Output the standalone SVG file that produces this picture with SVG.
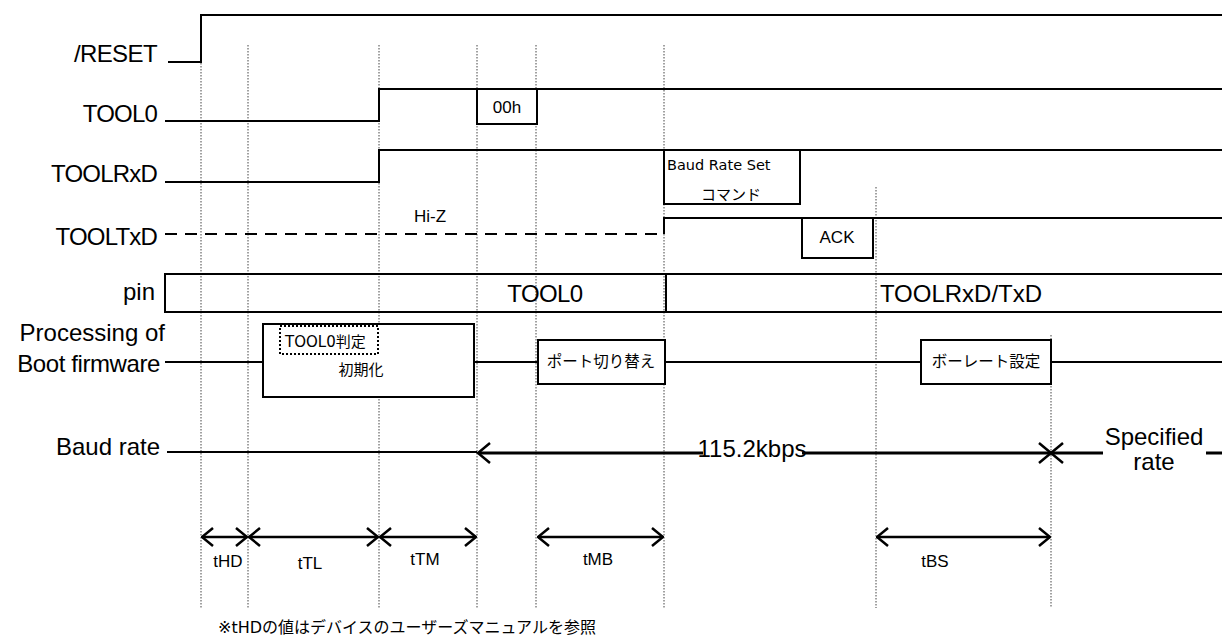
<svg xmlns="http://www.w3.org/2000/svg" width="1222" height="636" viewBox="0 0 1222 636">
<defs>
<style>
.bg{fill:#fff}
.sig{fill:none;stroke:#000;stroke-width:2}
.thick{fill:none;stroke:#000;stroke-width:3}
.box{fill:#fff;stroke:#000;stroke-width:2}
.dash{fill:none;stroke:#000;stroke-width:2;stroke-dasharray:12 8}
.guide{fill:none;stroke:#444;stroke-width:1;stroke-dasharray:1.5 1.5}
.dotbox{fill:none;stroke:#000;stroke-width:2;stroke-dasharray:2 2}
.lbl{font-family:"Liberation Sans",Arial,sans-serif;font-size:24px;fill:#000}
.sm{font-family:"Liberation Sans",Arial,sans-serif;font-size:17px;fill:#000}
.jp{font-family:"DejaVu Sans","Noto Sans CJK JP",sans-serif;fill:#000}
.arr{fill:none;stroke:#000;stroke-width:2.5}
</style>
<marker id="chev" viewBox="0 0 13 20" refX="12" refY="10" markerWidth="13" markerHeight="20" markerUnits="userSpaceOnUse" orient="auto-start-reverse">
<path d="M1,1 L12,10 L1,19" fill="none" stroke="#000" stroke-width="2.5"/>
</marker>
</defs>
<rect class="bg" x="0" y="0" width="1222" height="636"/>

<g id="connectors">
<path class="guide" d="M201,63V608 M248,45V608 M379,45V608 M477,45V608 M536,45V608 M664,45V608 M876,187V608 M1051,335V608"/>
<line class="arr" x1="202" y1="537" x2="247" y2="537" marker-start="url(#chev)" marker-end="url(#chev)"/>
<line class="arr" x1="249" y1="537" x2="378" y2="537" marker-start="url(#chev)" marker-end="url(#chev)"/>
<line class="arr" x1="380" y1="537" x2="476" y2="537" marker-start="url(#chev)" marker-end="url(#chev)"/>
<line class="arr" x1="538" y1="537" x2="663" y2="537" marker-start="url(#chev)" marker-end="url(#chev)"/>
<line class="arr" x1="877" y1="537" x2="1050" y2="537" marker-start="url(#chev)" marker-end="url(#chev)"/>
</g>

<g id="reset">
<text class="lbl" x="157" y="62" text-anchor="end" letter-spacing="-0.6">/RESET</text>
<path class="sig" d="M168,62H201V15H1222"/>
</g>

<g id="tool0">
<text class="lbl" x="157" y="122" text-anchor="end" letter-spacing="-0.8">TOOL0</text>
<path class="sig" d="M165,121H379V89H1222"/>
<rect class="box" x="477" y="89" width="60" height="35"/>
<text class="sm" x="507" y="113" text-anchor="middle">00h</text>
</g>

<g id="toolrxd">
<text class="lbl" x="157" y="182" text-anchor="end" letter-spacing="-0.8">TOOLRxD</text>
<path class="sig" d="M165,182H379V150H1222"/>
<rect class="box" x="664" y="150" width="136" height="54"/>
<text class="jp" x="667" y="170" font-size="14.5">Baud Rate Set</text>
<text class="jp" x="731" y="200" font-size="15" text-anchor="middle">コマンド</text>
</g>

<g id="tooltxd">
<text class="lbl" x="157" y="245" text-anchor="end" letter-spacing="-0.8">TOOLTxD</text>
<path class="dash" d="M165,234H664"/>
<path class="sig" d="M664,234V218H1222"/>
<text class="sm" x="414" y="222">Hi-Z</text>
<rect class="box" x="802" y="218" width="71" height="40"/>
<text class="sm" x="837" y="243" text-anchor="middle">ACK</text>
</g>

<g id="pin">
<text class="lbl" x="155" y="300" text-anchor="end" font-size="28">pin</text>
<path class="sig" d="M1222,274H165V312H1222 M666,274V312"/>
<text class="lbl" x="545" y="302" text-anchor="middle" font-size="23" letter-spacing="-0.6">TOOL0</text>
<text class="lbl" x="961" y="302" text-anchor="middle" font-size="23">TOOLRxD/TxD</text>
</g>

<g id="boot">
<text class="lbl" x="165" y="341" text-anchor="end">Processing of</text>
<text class="lbl" x="160" y="372" text-anchor="end" letter-spacing="-0.4">Boot firmware</text>
<path class="sig" d="M165,362H263 M474,362H538 M665,362H921 M1051,362H1222"/>
<rect class="box" x="263" y="324" width="211" height="73"/>
<rect class="dotbox" x="280" y="326" width="98" height="28"/>
<text class="jp" x="285" y="347" font-size="15">TOOL0判定</text>
<text class="jp" x="361" y="375" font-size="15" text-anchor="middle">初期化</text>
<rect class="box" x="538" y="340" width="127" height="44"/>
<text class="jp" x="601" y="367" font-size="15.5" text-anchor="middle">ポート切り替え</text>
<rect class="box" x="921" y="340" width="130" height="44"/>
<text class="jp" x="986" y="367" font-size="15.5" text-anchor="middle">ボーレート設定</text>
</g>

<g id="baud">
<text class="lbl" x="160" y="455" text-anchor="end">Baud rate</text>
<path class="sig" d="M167,452H477"/>
<path class="thick" d="M479,453H1103 M1206,453H1222"/>
<path class="arr" d="M490,443L478,453L490,463"/>
<path class="arr" d="M1039,443L1063,463 M1039,463L1063,443"/>
<rect class="bg" x="703" y="440" width="99" height="22"/>
<text class="lbl" x="752" y="457" text-anchor="middle" font-size="21">115.2kbps</text>
<text class="lbl" x="1154" y="445" text-anchor="middle" font-size="21">Specified</text>
<text class="lbl" x="1154" y="470" text-anchor="middle" font-size="21">rate</text>
</g>

<g id="timing-labels">
<text class="sm" x="228" y="567" text-anchor="middle">tHD</text>
<text class="sm" x="310" y="569" text-anchor="middle">tTL</text>
<text class="sm" x="425" y="565" text-anchor="middle">tTM</text>
<text class="sm" x="598" y="565" text-anchor="middle">tMB</text>
<text class="sm" x="935" y="567" text-anchor="middle">tBS</text>
</g>

<g id="note">
<text class="jp" x="218" y="633" font-size="16">※tHDの値はデバイスのユーザーズマニュアルを参照</text>
</g>
</svg>
